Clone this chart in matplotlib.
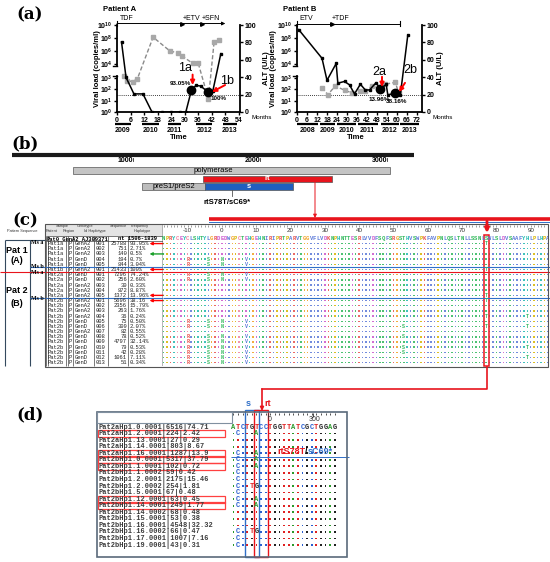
import matplotlib
matplotlib.use("Agg")
import matplotlib.pyplot as plt
import numpy as np
from matplotlib.patches import Rectangle

W, H = 550, 562
plt.rcParams["font.family"] = ["Liberation Sans", "DejaVu Sans"]
plt.rcParams["mathtext.default"] = "regular"
MONO = ["Liberation Mono", "DejaVu Sans Mono"]
RED = "#e8141c"
BLUE = "#2f6fc8"

# ---------------- (a) viral load and ALT ----------------
a_vl_month = [2, 4, 7.5, 11.5, 15.5, 20, 24, 28, 30.5, 33, 35, 37, 40.5, 42.5, 46]
a_vl_log = [7.4, 3.05, 1.6, 1.6, 0, 0, 0, 0, 0, 1.95, 2.35, 2.3, 1.75, 1.9, 5.6]
a_alt_month = [3, 4.5, 7, 9, 16, 23.5, 27, 29, 33.5, 36, 40.5, 43, 45]
a_alt = [41, 36, 35, 38, 86, 70, 68, 64, 56, 56, 15, 80, 83]
a_dot_month = [33, 40.5]
a_dot_log = [1.95, 1.75]
a_tags = ["1a", "1b"]
a_pcts = ["93.05%", "100%"]
a_years = ["2009", "2010", "2011", "2012", "2013"]
a_year_start = [-1, 11, 22.7, 35.2, 47]
a_year_end = [6.3, 18.8, 28.5, 42.3, 53]
a_treat = ["TDF", "+ETV", "+SFN"]
a_treat_start = [0, 29, 37.5]

b_vl_month = [1, 15, 18, 23.5, 24.5, 28.5, 31.5, 34.5, 38, 41, 43.5, 47.5, 50, 53.5, 54.5, 59, 62, 66.5]
b_vl_log = [9.3, 4.9, 2.8, 4.1, 2.55, 2.7, 2.4, 1.6, 2.45, 1.95, 1.95, 2.6, 2.0, 2.45, 1.5, 1.7, 1.5, 8.5]
b_alt_month = [15, 18.5, 23, 28.5, 33, 38, 41, 45, 50, 53, 59, 61]
b_alt = [28, 20, 30, 25, 22, 24, 24, 30, 27, 32, 34, 22]
b_dot_month = [50, 59]
b_dot_log = [2.0, 1.7]
b_tags = ["2a", "2b"]
b_pcts = ["13.96%", "38.16%"]
b_years = ["2008", "2009", "2010", "2011", "2012", "2013"]
b_year_start = [0, 13.8, 23.7, 36.5, 50.3, 62]
b_year_end = [12.8, 22.7, 35.5, 48.3, 61, 73]
b_treat = ["ETV", "+TDF"]
b_treat_start = [0, 21]

vl_tick_logs = [0, 1, 2, 3, 4, 6, 8, 10]
alt_ticks = [0, 20, 40, 60, 80, 100]

# ---------------- (b) genome map ----------------
genome_span = [50, 3215]
genome_ticks = [1000, 2000, 3000]
gene_names = ["polymerase", "rt", "preS1/preS2", "s"]
gene_start = [528, 1551, 1071, 1567]
gene_end = [3024, 2567, 1567, 2260]
mut_nt = 1780
mut_label = "rtS78T/sC69*"

# ---------------- (c) haplotype table ----------------
c_patient = ["Pat1a"] * 5 + ["Pat1b"] + ["Pat2a"] * 5 + ["Pat2b"] * 13
c_geno = ["GenA2", "GenA2", "GenA2", "GenD", "GenD", "GenA2",
          "GenD", "GenD", "GenA2", "GenA2", "GenA2",
          "GenA2", "GenA2", "GenA2", "GenA2", "GenD", "GenD", "GenA2",
          "GenD", "GenD", "GenD", "GenD", "GenD", "GenD"]
c_hap_id = ["001", "002", "003", "004", "005", "001",
            "001", "002", "003", "004", "005",
            "001", "002", "003", "004", "005", "006", "007", "008", "009",
            "010", "011", "012", "013"]
c_count = [25788, 751, 140, 194, 844, 21433, 7296, 256, 30, 872, 1372,
           5696, 2356, 263, 36, 75, 309, 82, 78, 4797, 79, 42, 1061, 51]
c_freq = ["93.05%", "2.71%", "0.5%", "0.7%", "3.04%", "100%",
          "74.24%", "2.60%", "0.33%", "8.87%", "13.96%",
          "38.16", "15.79%", "1.76%", "0.24%", "0.50%", "2.07%", "0.55%",
          "0.52%", "32.14%", "0.53%", "0.28%", "7.11%", "0.34%"]
c_red_arrow_rows = [1, 6, 11, 12]
c_green_arrow_rows = [3]
c_ruler = [-10, 0, 10, 20, 30, 40, 50, 60, 70, 80, 90]
c_ref_start = -17
c_ref_seq = ("NPRYCEYCLSHTYLGRD"
             "EDWGPCTEHGEHNIRIPRTPARVTGGVFLVDKNPHNTTESRLVVDFSQFS"
             "RGSTHVSWPKFAVPNLQSLTNLLSSNLSWLSLDVSAAFYHLPLHPA")
c_mut_row = ([4] * 4 + [5] * 4 + [7] * 4 + [8] * 4 + [16] * 4 + [17] * 4 + [19] * 4
             + [20] * 4 + [21] * 4 + [22] * 4 + [23] * 4 + [24] * 4
             + [1, 6, 11, 12, 15, 17] + [17, 19, 21, 22] + [15, 17, 21, 23])
c_mut_pos = [-10, -4, 0, 7] * 12 + [77] * 6 + [53] * 4 + [89] * 4
c_mut_aa = list("RSNV") * 12 + ["T"] * 6 + ["S"] * 4 + ["T"] * 4
c_box_pos = 77

# ---------------- (d) nucleotide alignment ----------------
d_names = ["Pat2aHp1.0.0001|6516|74.71", "Pat2aHp1.2.0001|224|2.42",
           "Pat2aHp1.13.0001|27|0.29", "Pat2aHp1.14.0001|803|8.67",
           "Pat2aHp1.16.0001|1287|13.9", "Pat2bHp1.0.0001|5317|37.79",
           "Pat2bHp1.1.0001|102|0.72", "Pat2bHp1.1.0002|59|0.42",
           "Pat2bHp1.2.0001|2175|15.46", "Pat2bHp1.2.0002|254|1.81",
           "Pat2bHp1.5.0001|67|0.48", "Pat2bHp1.12.0001|63|0.45",
           "Pat2bHp1.14.0001|249|1.77", "Pat2bHp1.14.0002|68|0.48",
           "Pat2bHp1.15.0001|53|0.38", "Pat2bHp1.16.0001|4548|32.32",
           "Pat2bHp1.16.0002|66|0.47", "Pat2bHp1.17.0001|1007|7.16",
           "Pat2bHp1.19.0001|43|0.31"]
d_boxed = [1, 4, 5, 6, 11, 12]
d_ref = "ATCTGTCCTGGTTATCGCTGGAG"
d_var_row = ([1, 4, 5, 6, 7, 8, 9, 10, 11, 12, 16, 17, 18]
             + [1, 4, 5, 6, 11, 12] + [9, 16] + [9, 16])
d_var_col = [1] * 13 + [5] * 6 + [4] * 2 + [5] * 2
d_var_nt = ["C"] * 13 + ["A"] * 6 + ["T"] * 2 + ["G"] * 2
d_ruler_k = [7.9, 17.6]
d_ruler_lab = ["0", "300"]

aa_color = {}
for letters, col in [("AVLIMFW", "#5a78d8"), ("KR", "#e8504a"), ("DE", "#cc55cc"),
                     ("STNQ", "#2fb85a"), ("C", "#f07fa0"), ("G", "#f0a020"),
                     ("P", "#d8b400"), ("HY", "#1fb8b0")]:
    for ch in letters:
        aa_color[ch] = col
nt_color = {"A": "#2a9a2a", "C": "#2a5fd0", "G": "#222222", "T": "#e02020"}

fig = plt.figure(figsize=(W / 100, H / 100), dpi=100)


def add_px_axes(x0, y0, x1, y1):
    ax = fig.add_axes([x0 / W, 1 - y1 / H, (x1 - x0) / W, (y1 - y0) / H])
    ax.patch.set_alpha(0)
    return ax


def vl_pos(logs):
    # broken viral-load axis: 10^0..10^3 below the break, 10^4..10^10 above
    logs = np.asarray(logs, dtype=float)
    low = 13.0 * logs
    mid = 39.0 + 16.0 * (logs - 3)
    high = 55.0 + 7.5 * (logs - 4)
    return np.where(logs <= 3, low, np.where(logs >= 4, high, mid))


def draw_patient(box, title, xmax, xticks, vl_m, vl_log, alt_m, alt, dot_m, dot_log,
                 years, ys, ye, treat, tstart, tend, arrow_end, tags, tag_xy,
                 arr_from, arr_to, pcts, pct_xy, ylab_x, alt_lab_x, months_x, time_x):
    ax = add_px_axes(*box)
    ax.set_xlim(0, xmax)
    ax.set_ylim(0, 100)
    ax.axhline(20, color="black", lw=0.6, ls=(0, (1, 1.5)))
    ax.plot(alt_m, alt, ls=(0, (3, 1.6)), color="#8a8a8a", lw=1.0, marker="s",
            ms=2.2, mfc="#a8a8a8", mec="#a8a8a8", zorder=2)
    ax.plot(vl_m, vl_pos(vl_log), color="black", lw=1.1, marker="s", ms=1.8, zorder=3)
    ax.plot(dot_m, vl_pos(dot_log), "o", color="black", ms=6, zorder=4)

    for s in ["top", "right", "left"]:
        ax.spines[s].set_visible(False)
    ax.spines["bottom"].set_linewidth(1.3)
    ytr = ax.get_yaxis_transform()
    ax.plot([0, 0], [0, 41], transform=ytr, color="black", lw=1.3, clip_on=False)
    ax.plot([0, 0], [53, 100], transform=ytr, color="black", lw=1.3, clip_on=False)
    ax.plot([-0.035, 0], [53, 53], transform=ytr, color="black", lw=1.0, clip_on=False)
    ax.plot([-0.035, 0], [41, 41], transform=ytr, color="black", lw=1.0, clip_on=False)

    ax.set_xticks(xticks)
    ax.set_yticks(vl_pos(vl_tick_logs))
    ax.set_yticklabels([f"10$^{{{n}}}$" for n in vl_tick_logs])
    ax.tick_params(labelsize=5, length=2.5, width=1, pad=1)
    ax.set_ylabel("Viral load (copies/ml)", fontsize=5.5, fontweight="bold")
    ax.yaxis.set_label_coords(ylab_x, 0.5)

    axr = ax.twinx()
    axr.set_ylim(0, 100)
    axr.set_yticks(alt_ticks)
    for s in ["top", "left", "bottom"]:
        axr.spines[s].set_visible(False)
    axr.spines["right"].set_linewidth(1.3)
    axr.tick_params(labelsize=5, length=2.5, width=1, pad=1)
    axr.set_ylabel("ALT (U/L)", fontsize=5.5, fontweight="bold")
    axr.yaxis.set_label_coords(alt_lab_x, 0.5)
    for lbl in ax.get_xticklabels() + ax.get_yticklabels() + axr.get_yticklabels():
        lbl.set_fontweight("bold")

    xtr = ax.get_xaxis_transform()
    for name, s0, s1 in zip(years, ys, ye):
        ax.plot([s0, s1], [-0.138, -0.138], transform=xtr, color="black", lw=1.6,
                clip_on=False, solid_capstyle="butt")
        ax.text((s0 + s1) / 2, -0.215, name, transform=xtr, ha="center", va="center",
                fontsize=5, fontweight="bold")
    ax.text(time_x, -0.29, "Time", transform=ax.transAxes, ha="center", va="center",
            fontsize=5.5, fontweight="bold")
    ax.text(months_x, -0.068, "Months", transform=ax.transAxes, ha="left", va="center",
            fontsize=4.5)
    ax.text(-0.11, 1.18, title, transform=ax.transAxes, ha="left", va="center",
            fontsize=5.5, fontweight="bold")

    yy = 1.017
    ax.plot([0, 0], [yy - 0.025, yy + 0.025], transform=xtr, color="black", lw=0.8,
            clip_on=False)
    if arrow_end:
        ax.annotate("", xy=(tend, yy), xytext=(0, yy), xycoords=xtr, textcoords=xtr,
                    arrowprops=dict(arrowstyle="-|>", color="black", lw=0.7,
                                    mutation_scale=5, shrinkA=0, shrinkB=0),
                    annotation_clip=False)
    else:
        ax.plot([0, tend], [yy, yy], transform=xtr, color="black", lw=0.7, clip_on=False)
        ax.plot([tend, tend], [yy - 0.025, yy + 0.025], transform=xtr, color="black",
                lw=0.8, clip_on=False)
    ax.plot(tstart[1:], [yy] * (len(tstart) - 1), ">", ms=2.6, color="black",
            transform=xtr, clip_on=False)
    for i, (name, t0) in enumerate(zip(treat, tstart)):
        ax.text(t0 + (1.5 if i == 0 else 0), yy + 0.06, name, transform=xtr,
                ha="left", va="center", fontsize=5)

    for tag, txy, a0, a1, pct, pxy in zip(tags, tag_xy, arr_from, arr_to, pcts, pct_xy):
        ax.text(txy[0], txy[1], tag, ha="center", va="center", fontsize=9, zorder=6)
        ax.annotate("", xy=a1, xytext=a0,
                    arrowprops=dict(arrowstyle="-|>", color="red", lw=1.4,
                                    mutation_scale=6, shrinkA=0, shrinkB=0), zorder=6)
        ax.text(pxy[0], pxy[1], pct, ha="center", va="center", fontsize=4.5,
                fontweight="bold", zorder=6)
    return ax


draw_patient((117, 25, 240, 112), "Patient A", 54.5, np.arange(0, 55, 6),
             a_vl_month, a_vl_log, a_alt_month, a_alt, a_dot_month, a_dot_log,
             a_years, a_year_start, a_year_end, a_treat, a_treat_start, 48, True,
             a_tags, [(30.1, 50.6), (48.8, 36)], [(33.5, 43), (47.9, 31)],
             [(33.5, 31), (42.1, 23)], a_pcts, [(27.9, 33), (45.2, 15.7)],
             -0.13, 1.19, 1.09, 0.5)
draw_patient((297, 25, 422, 112), "Patient B", 75, np.arange(0, 73, 6),
             b_vl_month, b_vl_log, b_alt_month, b_alt, b_dot_month, b_dot_log,
             b_years, b_year_start, b_year_end, b_treat, b_treat_start, 61.5, False,
             b_tags, [(49.2, 46), (67.8, 48.3)], [(51, 40.5), (64.8, 33.5)],
             [(51, 28.7), (61.2, 23)], b_pcts, [(49.5, 14.6), (60, 11.5)],
             -0.16, 1.12, 1.08, 0.47)

# ---------------- (b) ----------------
axb = add_px_axes(0, 140, 550, 226)
axb.set_xlim(-47, 4284)
axb.set_ylim(226, 140)
axb.axis("off")
axb.plot(genome_span, [155, 155], color="#1a1a1a", lw=3, solid_capstyle="butt")
for t in genome_ticks:
    axb.plot([t, t], [158, 161], color="#333333", lw=0.6)
    axb.text(t, 161, str(t), ha="right", va="center", fontsize=5, fontweight="bold")
gene_y = [170.8, 179, 186.7, 186.7]
gene_h = [7, 6, 6.7, 6.7]
gene_fc = ["#c4c4c4", RED, "#bdbdbd", "#1f5fbf"]
gene_tc = ["black", "white", "black", "white"]
gene_lab_x = [1630, None, None, None]
for name, s0, s1, y, h, fc, tc, lx in zip(gene_names, gene_start, gene_end, gene_y,
                                          gene_h, gene_fc, gene_tc, gene_lab_x):
    axb.barh(y, s1 - s0, left=s0, height=h, color=fc, edgecolor="#555555", lw=0.5)
    axb.text(lx if lx else (s0 + s1) / 2, y, name, ha="center", va="center",
             fontsize=5.5, color=tc, fontweight="bold" if tc == "white" else "normal")
axb.plot([mut_nt, mut_nt], [190, 196], color="#555555", lw=0.6)
axb.text(mut_nt - 40, 202, mut_label, ha="center", va="center", fontsize=5.5,
         fontweight="bold")

# ---------------- (c) ----------------
row_lim = (25.02, -2.78)
tb = add_px_axes(0, 224, 163, 368)
tb.set_xlim(0, 163)
tb.set_ylim(*row_lim)
tb.axis("off")
tb.add_patch(Rectangle((45, -2.78), 118, 2.23, facecolor="#e4e4e4", edgecolor="none"))
for x, lab in [(62, "Sample"), (85, "Genotype"), (118, "Sequence"), (140, "Frequency")]:
    tb.text(x, -2.3, lab, ha="center", va="center", fontsize=2.8, color="#333333")
for x, lab in [(52, "Patient"), (69, "Region"), (95, "Id Haplotype"), (142, "Haplotype"),
               (22, "Pattern Sequence")]:
    tb.text(x, -1.43, lab, ha="center", va="center", fontsize=2.8, color="#333333")
tb.text(47, 0, "Pat0_GenA2_AJ309371", ha="left", va="center", fontsize=4,
        family=MONO, fontweight="bold")
tb.text(118, 0, "nt 1506-1839", ha="left", va="center", fontsize=4, family=MONO,
        fontweight="bold")
for i, (p, g, hid, n, f) in enumerate(zip(c_patient, c_geno, c_hap_id, c_count, c_freq)):
    r = i + 1
    kw = dict(va="center", fontsize=4, family=MONO, color="#222222")
    tb.text(48, r, p, ha="left", **kw)
    tb.text(70.5, r, "P", ha="center", **kw)
    tb.text(74.5, r, g, ha="left", **kw)
    tb.text(101, r, hid, ha="center", **kw)
    tb.text(127, r, str(n), ha="right", **kw)
    tb.text(129.5, r, f, ha="left", **kw)
tb.vlines([46, 48, 66, 68, 73, 94, 108, 128], -0.55, 24.55, color="#444444", lw=0.5)
tb.vlines([163], -2.78, 24.55, color="#aaaaaa", lw=1.2)
tb.vlines([5, 30], 0.35, 24.55, color="#34495e", lw=0.8)
tb.hlines([-0.55, 0.55], 46, 163, color="#444444", lw=0.5)
tb.hlines([0.35], 5, 46, color="#34495e", lw=0.8)
tb.hlines([5.5, 11.5], 30, 163, color=BLUE, lw=0.8)
tb.hlines([6.5], 0, 163, color=RED, lw=0.8)
for r, lab in [(0.7, "Ms a"), (5.5, "Ms b"), (6.6, "Ms a"), (11.6, "Ms b")]:
    tb.text(37, r, lab, ha="center", va="center", fontsize=4.3, fontweight="bold",
            family=["Liberation Serif", "DejaVu Serif"])
for r, lab in [(2.3, "Pat 1"), (4.2, "(A)"), (10.1, "Pat 2"), (12.5, "(B)")]:
    tb.text(17, r, lab, ha="center", va="center", fontsize=6.5, fontweight="bold")
for rows, col in [(c_red_arrow_rows, "red"), (c_green_arrow_rows, "#1aa02a")]:
    for r in rows:
        tb.annotate("", xy=(149.5, r), xytext=(163.5, r),
                    arrowprops=dict(arrowstyle="-|>", color=col, lw=1.0,
                                    mutation_scale=4, shrinkA=0, shrinkB=0),
                    annotation_clip=False)

sq = add_px_axes(163, 224, 550, 368)
sq.set_xlim(-17.2, 95.63)
sq.set_ylim(*row_lim)
sq.axis("off")
positions = np.arange(c_ref_start, c_ref_start + len(c_ref_seq))
sq.vlines(positions, -2.6, -2.25, color="#555555", lw=0.4)
for v in c_ruler:
    sq.text(v, -1.43, str(v), ha="center", va="center", fontsize=4.5, color="#333333")
for pos, ch in zip(positions, c_ref_seq):
    sq.text(pos, 0, ch, ha="center", va="center", fontsize=4, family=MONO,
            fontweight="bold", color=aa_color[ch])
mutated = set(zip(c_mut_row, c_mut_pos))
dx, dy, dc = [], [], []
for r in range(1, len(c_patient) + 1):
    for pos, ch in zip(positions, c_ref_seq):
        if (r, pos) not in mutated:
            dx.append(pos)
            dy.append(r)
            dc.append(aa_color[ch])
sq.scatter(dx, dy, s=1.1, c=dc, marker="s", linewidths=0, alpha=0.85)
for r, pos, ch in zip(c_mut_row, c_mut_pos, c_mut_aa):
    sq.text(pos, r, ch, ha="center", va="center", fontsize=3.6, family=MONO,
            fontweight="bold", color=aa_color[ch])
sq.hlines([5.5, 11.5], -17.2, 95.63, color=BLUE, lw=0.8)
sq.hlines([6.5], -17.2, 95.63, color=RED, lw=0.8)
sq.add_patch(Rectangle((c_box_pos - 0.65, -0.6), 1.5, 25.15, fill=False,
                       edgecolor=RED, lw=1.1))

# ---------------- (d) ----------------
drow_lim = (19.82, -2.29)
dn = add_px_axes(97, 412, 232, 557)
dn.set_xlim(97, 232)
dn.set_ylim(*drow_lim)
dn.axis("off")
for i, name in enumerate(d_names):
    dn.text(98.5, i, name, ha="left", va="center", fontsize=5.0, family=MONO,
            fontweight="bold", color="#3a3a3a")
for i in d_boxed:
    dn.add_patch(Rectangle((97.5, i - 0.55), 127, 1.1, fill=False, edgecolor="#ff4040",
                           lw=0.9))

dal = add_px_axes(231, 412, 347, 557)
dal.set_xlim(-0.54, 24.67)
dal.set_ylim(*drow_lim)
dal.axis("off")
cols = np.arange(len(d_ref))
dal.vlines(cols, -2.2, -1.85, color="#333333", lw=0.6)
for k, lab in zip(d_ruler_k, d_ruler_lab):
    dal.vlines([k - 0.4], -2.2, -1.5, color="#333333", lw=0.6)
    dal.text(k, -1.15, lab, ha="center", va="center", fontsize=5, color="#333333")
for k, ch in zip(cols, d_ref):
    dal.text(k, 0, ch, ha="center", va="center", fontsize=5, family=MONO,
             fontweight="bold", color=nt_color[ch])
varied = set(zip(d_var_row, d_var_col))
ex, ey, ec = [], [], []
for r in range(1, len(d_names)):
    for k, ch in zip(cols, d_ref):
        if (r, k) not in varied:
            ex.append(k)
            ey.append(r)
            ec.append(nt_color[ch])
dal.scatter(ex, ey, s=1.6, c=ec, marker="s", linewidths=0)
for r, k, ch in zip(d_var_row, d_var_col, d_var_nt):
    dal.text(k, r, ch, ha="center", va="center", fontsize=5, family=MONO,
             fontweight="bold", color=nt_color[ch])
dal.hlines([4.5], -0.54, 25.2, color=BLUE, lw=0.7, clip_on=False)
dal.add_patch(Rectangle((2.5, -2.6), 3, 22.4, fill=False, edgecolor=BLUE, lw=1.0,
                        clip_on=False))
dal.add_patch(Rectangle((4.5, -2.6), 3, 22.4, fill=False, edgecolor=RED, lw=1.0,
                        clip_on=False))
t1 = dal.text(9.5, 3.8, "rtS78T", ha="left", va="center", fontsize=6.5,
              fontweight="bold", color=RED)
t2 = dal.annotate("/", xy=(1, 0), xycoords=t1, ha="left", va="bottom", fontsize=6.5,
                  fontweight="bold", color="black")
dal.annotate("sC69*", xy=(1, 0), xycoords=t2, ha="left", va="bottom", fontsize=6.5,
             fontweight="bold", color=BLUE)

# ---------------- overlay: labels, frames, connectors ----------------
ov = add_px_axes(0, 0, W, H)
ov.set_xlim(0, W)
ov.set_ylim(H, 0)
ov.axis("off")
ov.set_zorder(10)
for (x, y), lab in zip([(30, 15), (25, 144), (25, 221), (30, 415)],
                       ["(a)", "(b)", "(c)", "(d)"]):
    ov.text(x, y, lab, ha="center", va="center", fontsize=12, fontweight="bold",
            family=["DejaVu Serif"])
ov.add_patch(Rectangle((45, 224), 503, 143, fill=False, edgecolor="#555555", lw=0.8))
ov.add_patch(Rectangle((97, 412), 250, 145, fill=False, edgecolor="#5a6a7a", lw=1.2))
ov.add_patch(Rectangle((97, 412), 135, 11, fill=False, edgecolor="#8090a0", lw=0.8))
ov.plot([209, 550], [219.3, 219.3], color=RED, lw=2.6, solid_capstyle="butt")
ov.plot([209, 550], [221.6, 221.6], color=BLUE, lw=0.7)
ov.annotate("", xy=(315, 218), xytext=(315, 182),
            arrowprops=dict(arrowstyle="-|>", color=RED, lw=0.7, mutation_scale=5,
                            shrinkA=0, shrinkB=0))
ov.annotate("", xy=(487, 233), xytext=(487, 221),
            arrowprops=dict(arrowstyle="-|>", color=RED, lw=2.0, mutation_scale=6,
                            shrinkA=0, shrinkB=0))
ov.plot([487, 487, 262], [367, 389, 389], color=RED, lw=1.2)
ov.annotate("", xy=(262, 411), xytext=(262, 389),
            arrowprops=dict(arrowstyle="-|>", color=RED, lw=1.2, mutation_scale=5,
                            shrinkA=0, shrinkB=0))
ov.text(248, 403, "s", ha="center", va="center", fontsize=6.5, fontweight="bold",
        color=BLUE)
ov.text(268, 403, "rt", ha="center", va="center", fontsize=6.5, fontweight="bold",
        color=RED)

plt.savefig("out.png", dpi=100)
